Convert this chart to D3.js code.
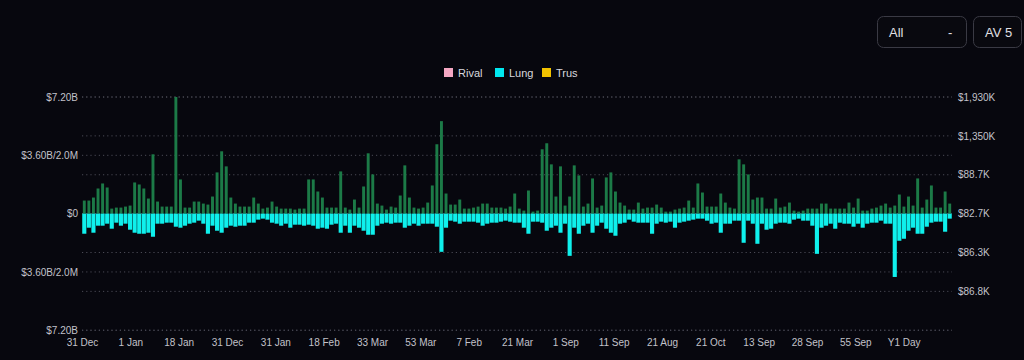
<!DOCTYPE html>
<html><head><meta charset="utf-8">
<script src="https://cdn.jsdelivr.net/npm/d3@7/dist/d3.min.js"></script>
<style>html,body{margin:0;background:#07070e;}svg{display:block}</style>
</head><body><svg id="c" width="1024" height="360"></svg>
<script>
// Green (up) series values
const inflow = [
 13,13,16,25,30,26,5,6,6,7,8,31,29,25,15,59,12,7,7,7,116,34,6,6,12,12,10,9,17,41,62,47,16,10,7,7,7,16,10,5,6,12,7,5,5,5,4,5,5,34,34,22,16,6,6,6,42,6,4,14,6,27,60,39,
 10,8,4,7,6,18,48,16,6,5,6,11,28,69,92,20,9,9,14,5,5,6,7,10,10,6,6,6,5,7,20,5,3,23,2,3,64,70,49,17,47,8,17,48,38,7,10,35,6,8,36,41,22,11,8,4,4,11,5,6,6,9,6,2,2,4,
 5,6,13,6,30,21,7,7,7,20,11,6,5,54,49,39,14,16,16,5,5,15,6,7,11,3,2,3,5,5,5,10,10,5,5,5,5,11,6,15,3,3,5,6,8,10,6,8,19,7,17,8,35,6,14,28,6,6,22,10
];
// Cyan (down) series values
const outflow = [
 20,14,19,12,12,10,15,9,12,10,16,19,20,20,19,23,10,10,9,9,13,14,12,10,9,7,10,20,12,17,19,14,12,13,12,12,9,9,6,5,6,9,10,12,10,14,11,11,12,11,12,15,14,15,11,10,19,12,19,12,14,17,21,21,
 12,10,9,10,9,9,14,12,10,12,10,10,10,13,38,14,7,8,10,8,8,8,9,12,10,9,9,8,7,8,9,9,14,20,8,8,9,17,14,12,19,10,42,14,20,12,10,19,12,9,15,19,22,10,9,6,8,9,9,9,20,10,8,9,8,14,
 9,8,7,6,5,5,7,10,9,19,10,10,7,7,29,7,10,30,10,16,15,10,9,9,10,6,5,7,7,12,40,14,12,10,15,9,10,10,13,10,14,10,9,9,7,10,10,63,27,25,17,14,20,20,13,9,8,8,18,5
];
const xTickLabels = ["31 Dec","1 Jan","18 Jan","31 Dec","31 Jan","18 Feb","33 Mar","53 Mar","7 Feb","21 Mar","1 Sep","11 Sep","21 Aug","21 Oct","13 Sep","28 Sep","55 Sep","Y1 Day"];
const leftTickValues = [116,58,0,-58,-116];
const leftTickLabels = ["$7.20B","$3.60B/2.0M","$0","$3.60B/2.0M","$7.20B"];
const rightTickValues = [0,1,2,3,4,5,6];
const rightTickLabels = ["$1,930K","$1,350K","$88.7K","$82.7K","$86.3K","$86.8K",""];
const legendNames = ["Rival","Lung","Trus"];
const legendColors = ["#f4a7c3","#00e8f0","#f2c200"];

const svg = d3.select("#c");
const x0=82,x1=952,yTop=97,yBot=330.25;
const N = inflow.length;
const x = d3.scaleLinear().domain([0,N]).range([x0,x1]);
const y = d3.scaleLinear().domain([-116,116]).range([yBot,yTop]);
const yR = d3.scaleLinear().domain([0,6]).range([yTop,yBot]);
const step = (x1-x0)/N;
const FONT = "Liberation Sans, Arial, sans-serif";
const TXT = "#c2c2ca";

// gridlines
const gl = leftTickValues.map(v=>y(v)).concat(rightTickValues.map(v=>yR(v)));
svg.append("g").selectAll("line").data(gl).enter().append("line")
 .attr("x1",x0).attr("x2",x1).attr("y1",d=>d).attr("y2",d=>d)
 .attr("stroke","#4a4a55").attr("stroke-width",1).attr("stroke-dasharray","1.2,3");

// bars
svg.append("g").selectAll("rect").data(inflow).enter().append("rect")
 .attr("x",(d,i)=>x(i)+step*0.18).attr("width",step*0.64)
 .attr("y",d=>y(d)).attr("height",d=>y(0)-y(d)).attr("fill","#1c7a47");
svg.append("g").selectAll("rect").data(outflow).enter().append("rect")
 .attr("x",(d,i)=>x(i)+step*0.05).attr("width",step*0.9)
 .attr("y",y(0)).attr("height",d=>y(-d)-y(0)).attr("fill","#0ff0ec");

// left axis
const lg = svg.append("g").attr("transform","translate(78,0)")
 .call(d3.axisLeft(y).tickValues(leftTickValues).tickSize(0).tickPadding(0).tickFormat((d,i)=>leftTickLabels[i]));
lg.select(".domain").remove();
lg.selectAll("text").attr("fill",TXT).attr("font-family",FONT).attr("font-size",10);

// right axis
const rg = svg.append("g").attr("transform","translate(958,0)")
 .call(d3.axisRight(yR).tickValues(rightTickValues).tickSize(0).tickPadding(0).tickFormat((d,i)=>rightTickLabels[i]));
rg.select(".domain").remove();
rg.selectAll("text").attr("fill",TXT).attr("font-family",FONT).attr("font-size",10);

// x axis
const xt = xTickLabels.map((d,i)=>i*N/18);
const xg = svg.append("g").attr("transform","translate(0,339)")
 .call(d3.axisBottom(x).tickValues(xt).tickSize(0).tickPadding(0).tickFormat((d,i)=>xTickLabels[i]));
xg.select(".domain").remove();
xg.selectAll("text").attr("fill",TXT).attr("font-family",FONT).attr("font-size",10);

// legend
const lx=[444,495,542];
const leg = svg.append("g");
legendNames.forEach((n,i)=>{
  leg.append("rect").attr("x",lx[i]).attr("y",68).attr("width",9).attr("height",9).attr("fill",legendColors[i]);
  leg.append("text").attr("x",lx[i]+14).attr("y",76.5).text(n).attr("fill","#d8d8de")
   .attr("font-family",FONT).attr("font-size",11);
});

// controls
const ctl = svg.append("g").attr("font-family",FONT).attr("fill","#e0e0e6").attr("font-size",13);
ctl.append("rect").attr("x",877.5).attr("y",16.5).attr("width",89).attr("height",31).attr("rx",6).attr("fill","#09090f").attr("stroke","#3a3a44");
ctl.append("rect").attr("x",973.5).attr("y",16.5).attr("width",48).attr("height",31).attr("rx",6).attr("fill","#09090f").attr("stroke","#3a3a44");
ctl.append("text").attr("x",889).attr("y",37).text("All");
ctl.append("text").attr("x",948).attr("y",37).text("-");
ctl.append("text").attr("x",985).attr("y",37).text("AV 5");
</script></body></html>
